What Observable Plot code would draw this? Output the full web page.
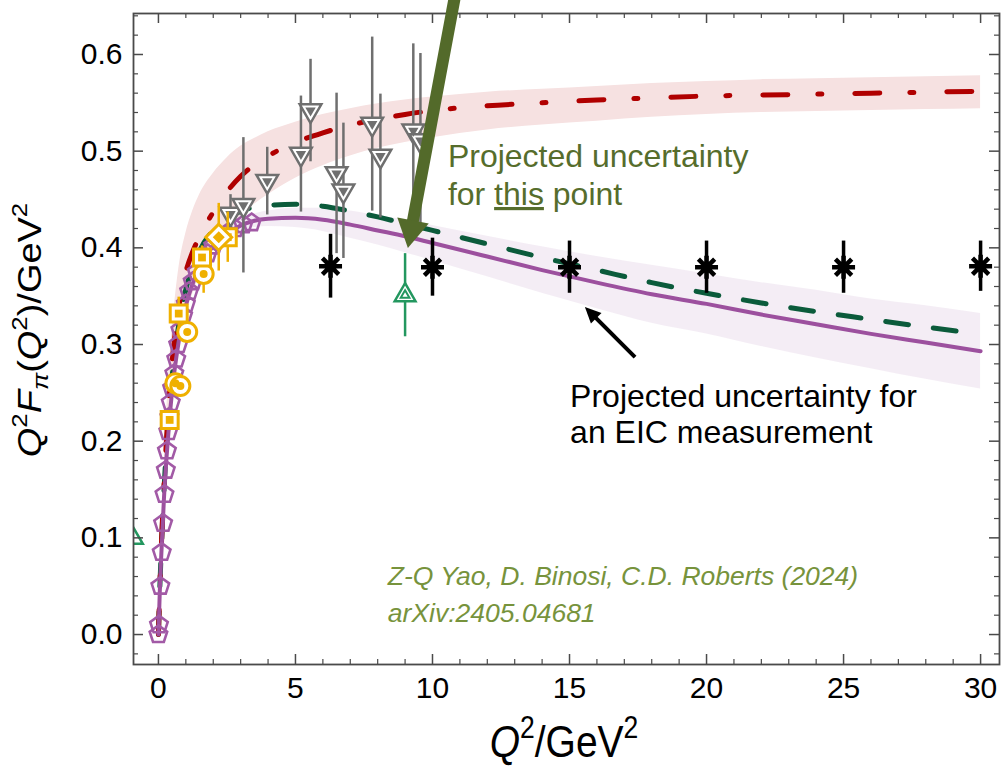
<!DOCTYPE html>
<html>
<head>
<meta charset="utf-8">
<script src="https://cdn.jsdelivr.net/npm/d3@7"></script>
<script src="https://cdn.jsdelivr.net/npm/@observablehq/plot@0.6"></script>
<style>
  html, body { margin: 0; padding: 0; background: #ffffff; }
  #chart svg { display: block; }
</style>
</head>
<body>
<div id="chart"></div>
<script>
// ---------------- data ----------------
const qGrid = [0,0.05,0.1,0.2,0.3,0.4,0.5,0.75,1,1.25,1.5,2,2.5,3,3.5,4,5,6,7,8,9,10,12,14,16,18,20,22,24,26,28,30];
const purpleCurve = [0,0.045,0.08,0.14,0.185,0.222,0.252,0.305,0.34,0.363,0.38,0.402,0.415,0.423,0.428,0.43,0.431,0.429,0.424,0.418,0.412,0.405,0.391,0.377,0.364,0.352,0.342,0.331,0.321,0.311,0.302,0.293];
const purpleLow   = [0,0.044,0.079,0.138,0.182,0.219,0.249,0.301,0.336,0.358,0.375,0.397,0.41,0.417,0.421,0.422,0.421,0.417,0.41,0.403,0.395,0.387,0.37,0.353,0.337,0.322,0.311,0.298,0.286,0.275,0.264,0.254];
const purpleHigh  = [0,0.046,0.081,0.142,0.188,0.225,0.255,0.309,0.344,0.368,0.385,0.407,0.42,0.429,0.435,0.438,0.441,0.441,0.438,0.433,0.429,0.423,0.412,0.401,0.391,0.382,0.373,0.364,0.356,0.347,0.34,0.332];
const greenCurve  = [0,0.048,0.085,0.148,0.197,0.236,0.267,0.322,0.357,0.38,0.397,0.418,0.43,0.438,0.442,0.444,0.445,0.443,0.438,0.432,0.425,0.418,0.404,0.39,0.377,0.364,0.353,0.343,0.334,0.326,0.318,0.311];
const redCurve    = [0,0.048,0.087,0.152,0.205,0.248,0.282,0.34,0.375,0.396,0.412,0.437,0.458,0.474,0.486,0.495,0.509,0.519,0.527,0.533,0.538,0.542,0.547,0.55,0.553,0.555,0.557,0.558,0.559,0.56,0.561,0.562];
const redLow      = [0,0.043,0.078,0.135,0.18,0.215,0.245,0.295,0.33,0.352,0.37,0.397,0.417,0.433,0.445,0.455,0.472,0.485,0.495,0.503,0.509,0.514,0.522,0.527,0.531,0.535,0.538,0.54,0.541,0.542,0.543,0.544];
const redHigh     = [0,0.053,0.096,0.17,0.23,0.28,0.315,0.38,0.415,0.438,0.455,0.477,0.493,0.505,0.513,0.52,0.53,0.538,0.544,0.549,0.553,0.556,0.561,0.564,0.567,0.57,0.572,0.574,0.575,0.576,0.577,0.578];

const pentQ = [0,0.02,0.07,0.12,0.17,0.22,0.27,0.31,0.36,0.4,0.45,0.5,0.58,0.65,0.72,0.8,0.9,1.0,1.12,1.25,1.4,1.6,1.8,2.0,2.25,2.5,2.8,3.1,3.4];
const pentV = [0,0.01,0.05,0.085,0.115,0.145,0.17,0.19,0.21,0.225,0.24,0.255,0.27,0.285,0.3,0.315,0.33,0.342,0.355,0.365,0.375,0.385,0.394,0.402,0.41,0.415,0.42,0.424,0.426];

const grayQ = [2.63,3.1,3.97,5.2,5.55,6.5,6.75,7.8,8.1,9.3,9.56];
const grayV = [0.435,0.444,0.469,0.497,0.542,0.477,0.459,0.528,0.495,0.521,0.511];
const grayE = [0.02,0.07,0.035,0.06,0.053,0.083,0.07,0.09,0.064,0.09,0.09];

const squareQ = [0.41,0.74,1.59,2.53];
const squareV = [0.222,0.332,0.39,0.411];
const squareE = [0.006,0.017,0.012,0.026];
const circleQ = [0.62,0.8,1.05,1.65];
const circleV = [0.26,0.257,0.313,0.373];
const circleE = [0.006,0.006,0.01,0.02];
const diamondQ = [2.2];
const diamondV = [0.411];
const diamondE = [0.035];

const starQ = [6.28,10,15,20,25,30];
const starV = [0.381,0.38,0.38,0.38,0.38,0.381];
const starE = [0.033,0.03,0.027,0.027,0.027,0.026];

const projQ = [9.0];
const projV = [0.351];
const projE = [0.043];
const edgeQ = [-0.95];
const edgeV = [0.1];

const xMajor = [0,5,10,15,20,25,30];
const xMinor = [1,2,3,4,6,7,8,9,11,12,13,14,16,17,18,19,21,22,23,24,26,27,28,29];
const yMajor = [0,0.1,0.2,0.3,0.4,0.5,0.6];
const yMinor = [-0.02,0.02,0.04,0.06,0.08,0.12,0.14,0.16,0.18,0.22,0.24,0.26,0.28,0.32,0.34,0.36,0.38,0.42,0.44,0.46,0.48,0.52,0.54,0.56,0.58,0.62,0.64];
const xDomain = [-0.91, 30.69];
const yDomain = [-0.031, 0.6424];

// annotation anchors (data coordinates)
const greenNoteAt = [10.58, 0.483, 0.4438];
const blackNoteAt = [15.04, 0.2348, 0.1976];
const citeAt = [8.39, 0.0507, 0.0124];
const greenArrow = [[10.84, 0.66], [9.12, 0.3993]];
const blackArrow = [[17.41, 0.2865], [15.58, 0.3383]];

// ---------------- tables ----------------
const curves = qGrid.map((q, i) => ({
  q, purple: purpleCurve[i], pLo: purpleLow[i], pHi: purpleHigh[i],
  green: greenCurve[i], red: redCurve[i], rLo: redLow[i], rHi: redHigh[i]
}));
const pts = (Q, V, E) => Q.map((q, i) => ({q, v: V[i], e: E ? E[i] : 0}));
const pent = pts(pentQ, pentV);
const gray = pts(grayQ, grayV, grayE);
const squares = pts(squareQ, squareV, squareE);
const circles = pts(circleQ, circleV, circleE);
const diamonds = pts(diamondQ, diamondV, diamondE);
const stars = pts(starQ, starV, starE);
const proj = pts(projQ, projV, projE);
const edge = pts(edgeQ, edgeV);

// ---------------- symbols ----------------
function poly(n, rot) {
  return {
    draw(ctx, size) {
      const r = Math.sqrt(size / Math.PI);
      for (let i = 0; i < n; i++) {
        const a = rot + 2 * Math.PI * i / n;
        const x = r * Math.sin(a), y = -r * Math.cos(a);
        if (i) ctx.lineTo(x, y); else ctx.moveTo(x, y);
      }
      ctx.closePath();
    }
  };
}
const pentagon = poly(5, 0);
const triUp = poly(3, 0);
const triDown = poly(3, Math.PI);
const diamondSym = poly(4, 0);
const squareSym = poly(4, Math.PI / 4);
const asterisk = {
  draw(ctx, size) {
    const r = Math.sqrt(size / Math.PI);
    for (let k = 0; k < 4; k++) {
      const a = k * Math.PI / 4;
      ctx.moveTo(r * Math.cos(a), r * Math.sin(a));
      ctx.lineTo(-r * Math.cos(a), -r * Math.sin(a));
    }
  }
};

// ---------------- layout ----------------
const W = 1001, H = 769;
const mL = 133, mR = 2, mT = 13, mB = 105;
const frameW = W - mL - mR, frameH = H - mT - mB;
const FONT = "'Liberation Sans', Arial, Helvetica, sans-serif";
const axisCol = "#4a4a4a";
const grayCol = "#6f6f6f", yellow = "#efb000", purple = "#9c509e", pentCol = "#a25aa6";
const darkGreen = "#0b5b3b", darkRed = "#b00000", projGreen = "#23975f";
const olive = "#566d2c", citeCol = "#77933c";

const chart = Plot.plot({
  width: W, height: H,
  marginLeft: mL, marginRight: mR, marginTop: mT, marginBottom: mB,
  x: {domain: xDomain, axis: null},
  y: {domain: yDomain, axis: null},
  style: {fontFamily: FONT, background: "#ffffff", color: "#000"},
  marks: [
    Plot.areaY(curves, {x: "q", y1: "rLo", y2: "rHi", fill: "#f6e1e1", curve: "monotone-x"}),
    Plot.areaY(curves, {x: "q", y1: "pLo", y2: "pHi", fill: "#f3ecf4", fillOpacity: 0.95, curve: "monotone-x"}),
    Plot.line(curves, {x: "q", y: "green", stroke: darkGreen, strokeWidth: 5, strokeDasharray: "23 25", curve: "monotone-x"}),
    Plot.line(curves, {x: "q", y: "red", stroke: darkRed, strokeWidth: 5, strokeDasharray: "25 30 4 33", curve: "monotone-x"}),
    Plot.line(curves, {x: "q", y: "purple", stroke: purple, strokeWidth: 4, curve: "monotone-x"}),

    Plot.dot(pent, {x: "q", y: "v", symbol: pentagon, r: 9.2, stroke: pentCol, strokeWidth: 2.6, fill: "none"}),

    Plot.ruleX(gray, {x: "q", y1: d => d.v - d.e, y2: d => d.v + d.e, stroke: grayCol, strokeWidth: 2.5}),
    Plot.dot(gray, {x: "q", y: "v", symbol: triDown, r: 12.5, stroke: grayCol, strokeWidth: 2.5, fill: "white"}),
    Plot.dot(gray, {x: "q", y: "v", symbol: triDown, r: 6, fill: grayCol, stroke: "none"}),

    Plot.ruleX(squares, {x: "q", y1: d => d.v - d.e, y2: d => d.v + d.e, stroke: yellow, strokeWidth: 2.5}),
    Plot.ruleX(circles, {x: "q", y1: d => d.v - d.e, y2: d => d.v + d.e, stroke: yellow, strokeWidth: 2.5}),
    Plot.ruleX(diamonds, {x: "q", y1: d => d.v - d.e, y2: d => d.v + d.e, stroke: yellow, strokeWidth: 2.5}),
    Plot.dot(circles, {x: "q", y: "v", r: 9.5, stroke: yellow, strokeWidth: 3, fill: "white"}),
    Plot.dot(circles, {x: "q", y: "v", r: 4, fill: yellow, stroke: "none"}),
    Plot.dot(squares, {x: "q", y: "v", symbol: squareSym, r: 12, stroke: yellow, strokeWidth: 3, fill: "white"}),
    Plot.dot(squares, {x: "q", y: "v", symbol: squareSym, r: 5.5, fill: yellow, stroke: "none"}),
    Plot.dot(diamonds, {x: "q", y: "v", symbol: diamondSym, r: 13, stroke: yellow, strokeWidth: 3, fill: "white"}),
    Plot.dot(diamonds, {x: "q", y: "v", symbol: diamondSym, r: 6, fill: yellow, stroke: "none"}),

    Plot.ruleX(stars, {x: "q", y1: d => d.v - d.e, y2: d => d.v + d.e, stroke: "#000", strokeWidth: 3.5}),
    Plot.dot(stars, {x: "q", y: "v", symbol: asterisk, r: 11.5, stroke: "#000", strokeWidth: 4.5, fill: "none"}),

    Plot.ruleX(proj, {x: "q", y1: d => d.v - d.e, y2: d => d.v + d.e, stroke: projGreen, strokeWidth: 2.5}),
    Plot.dot(proj, {x: "q", y: "v", symbol: triUp, r: 12, stroke: projGreen, strokeWidth: 2.5, fill: "white"}),
    Plot.dot(proj, {x: "q", y: "v", symbol: triUp, r: 5, stroke: projGreen, strokeWidth: 2, fill: "white"}),
    Plot.dot(edge, {x: "q", y: "v", symbol: triUp, r: 12, stroke: projGreen, strokeWidth: 2.5, fill: "white", clip: true}),

    // ticks (inward) on all four sides
    Plot.tickX(xMajor, {x: d => d, insetTop: frameH - 10, stroke: axisCol, strokeWidth: 1.5}),
    Plot.tickX(xMinor, {x: d => d, insetTop: frameH - 5, stroke: axisCol, strokeWidth: 1.2}),
    Plot.tickX(xMajor, {x: d => d, insetBottom: frameH - 10, stroke: axisCol, strokeWidth: 1.5}),
    Plot.tickX(xMinor, {x: d => d, insetBottom: frameH - 5, stroke: axisCol, strokeWidth: 1.2}),
    Plot.tickY(yMajor, {y: d => d, insetRight: frameW - 10, stroke: axisCol, strokeWidth: 1.5}),
    Plot.tickY(yMinor, {y: d => d, insetRight: frameW - 5, stroke: axisCol, strokeWidth: 1.2}),
    Plot.tickY(yMajor, {y: d => d, insetLeft: frameW - 10, stroke: axisCol, strokeWidth: 1.5}),
    Plot.tickY(yMinor, {y: d => d, insetLeft: frameW - 5, stroke: axisCol, strokeWidth: 1.2}),
    Plot.frame({stroke: axisCol, strokeWidth: 1.8}),

    Plot.text(xMajor, {x: d => d, frameAnchor: "bottom", dy: 12, lineAnchor: "top", text: d => String(d), fontSize: 30, fill: "#000", ariaLabel: "xtick-label"}),
    Plot.text(yMajor, {y: d => d, frameAnchor: "left", dx: -11, textAnchor: "end", text: d => d.toFixed(1), fontSize: 30, fill: "#000", ariaLabel: "ytick-label"})
  ]
});

document.getElementById("chart").appendChild(chart);

// ---------------- post-processing ----------------
const svg = d3.select(chart);
const sx = chart.scale("x"), sy = chart.scale("y");
const P = p => [sx.apply(p[0]), sy.apply(p[1])];

function stretch(sel, fx, fy) {
  sel.each(function () {
    const t = this.getAttribute("transform");
    if (t) this.setAttribute("transform", `${t} scale(${fx},${fy})`);
    else {
      const x = this.getAttribute("x") || 0, y = this.getAttribute("y") || 0;
      this.removeAttribute("x"); this.removeAttribute("y");
      this.setAttribute("transform", `translate(${x},${y}) scale(${fx},${fy})`);
    }
  });
}
stretch(svg.selectAll('g[aria-label="xtick-label"] text'), 1, 1.15);
stretch(svg.selectAll('g[aria-label="ytick-label"] text'), 1, 1.15);

// rich text helper
function rich(textSel, parts, base) {
  let off = 0;
  for (const p of parts) {
    const ts = textSel.append("tspan");
    let target = 0;
    if (p.sup) target = -base * 0.42;
    if (p.sub) target = base * 0.22;
    ts.attr("dy", target - off);
    off = target;
    if (p.sup || p.sub) ts.attr("font-size", base * 0.68);
    if (p.it) ts.attr("font-style", "italic");
    ts.text(p.t);
  }
}

// y-axis title
const yt = svg.append("text")
  .attr("transform", "translate(41,330) rotate(-90) scale(1.15,1)")
  .attr("text-anchor", "middle").attr("font-size", 33).attr("font-family", FONT).attr("fill", "#000");
rich(yt, [
  {t: "Q", it: true}, {t: "2", sup: true}, {t: "F", it: true}, {t: "π", sub: true, it: true},
  {t: "("}, {t: "Q", it: true}, {t: "2", sup: true}, {t: ")/GeV"}, {t: "2", sup: true}
], 33);

// x-axis title
const xt = svg.append("text")
  .attr("transform", "translate(564,757) scale(1,1.15)")
  .attr("text-anchor", "middle").attr("font-size", 39).attr("font-family", FONT).attr("fill", "#000");
rich(xt, [{t: "Q", it: true}, {t: "2", sup: true}, {t: "/GeV"}, {t: "2", sup: true}], 39);

// arrows
function arrow(a, width, headLen, headW, color) {
  const [x0, y0] = P(a[0]), [x1, y1] = P(a[1]);
  const dx = x1 - x0, dy = y1 - y0, L = Math.hypot(dx, dy), ux = dx / L, uy = dy / L;
  const bx = x1 - ux * headLen, by = y1 - uy * headLen;
  const nx = -uy, ny = ux;
  svg.append("line").attr("x1", x0).attr("y1", y0).attr("x2", bx + ux * 2).attr("y2", by + uy * 2)
    .attr("stroke", color).attr("stroke-width", width);
  svg.append("polygon")
    .attr("points", [[x1, y1], [bx + nx * headW / 2, by + ny * headW / 2], [bx - nx * headW / 2, by - ny * headW / 2]]
      .map(p => p.join(",")).join(" "))
    .attr("fill", color);
}
arrow(greenArrow, 12, 28, 32, "#536a2a");
arrow(blackArrow, 4, 16, 15, "#000");

// annotation texts
function line(x, y, size, color, italic) {
  const t = svg.append("text").attr("x", sx.apply(x)).attr("y", sy.apply(y))
    .attr("text-anchor", "start")
    .attr("font-size", size).attr("font-family", FONT).attr("fill", color);
  if (italic) t.attr("font-style", "italic");
  return t;
}
line(greenNoteAt[0], greenNoteAt[1], 32, olive).text("Projected uncertainty");
const gl2 = line(greenNoteAt[0], greenNoteAt[2], 32, olive);
gl2.append("tspan").text("for ");
gl2.append("tspan").attr("text-decoration", "underline").text("this");
gl2.append("tspan").text(" point");

line(blackNoteAt[0], blackNoteAt[1], 32, "#000").text("Projected uncertainty for");
line(blackNoteAt[0], blackNoteAt[2], 32, "#000").text("an EIC measurement");

line(citeAt[0], citeAt[1], 26.5, citeCol, true).text("Z-Q Yao, D. Binosi, C.D. Roberts (2024)");
line(citeAt[0], citeAt[2], 26.5, citeCol, true).text("arXiv:2405.04681");
</script>
</body>
</html>
